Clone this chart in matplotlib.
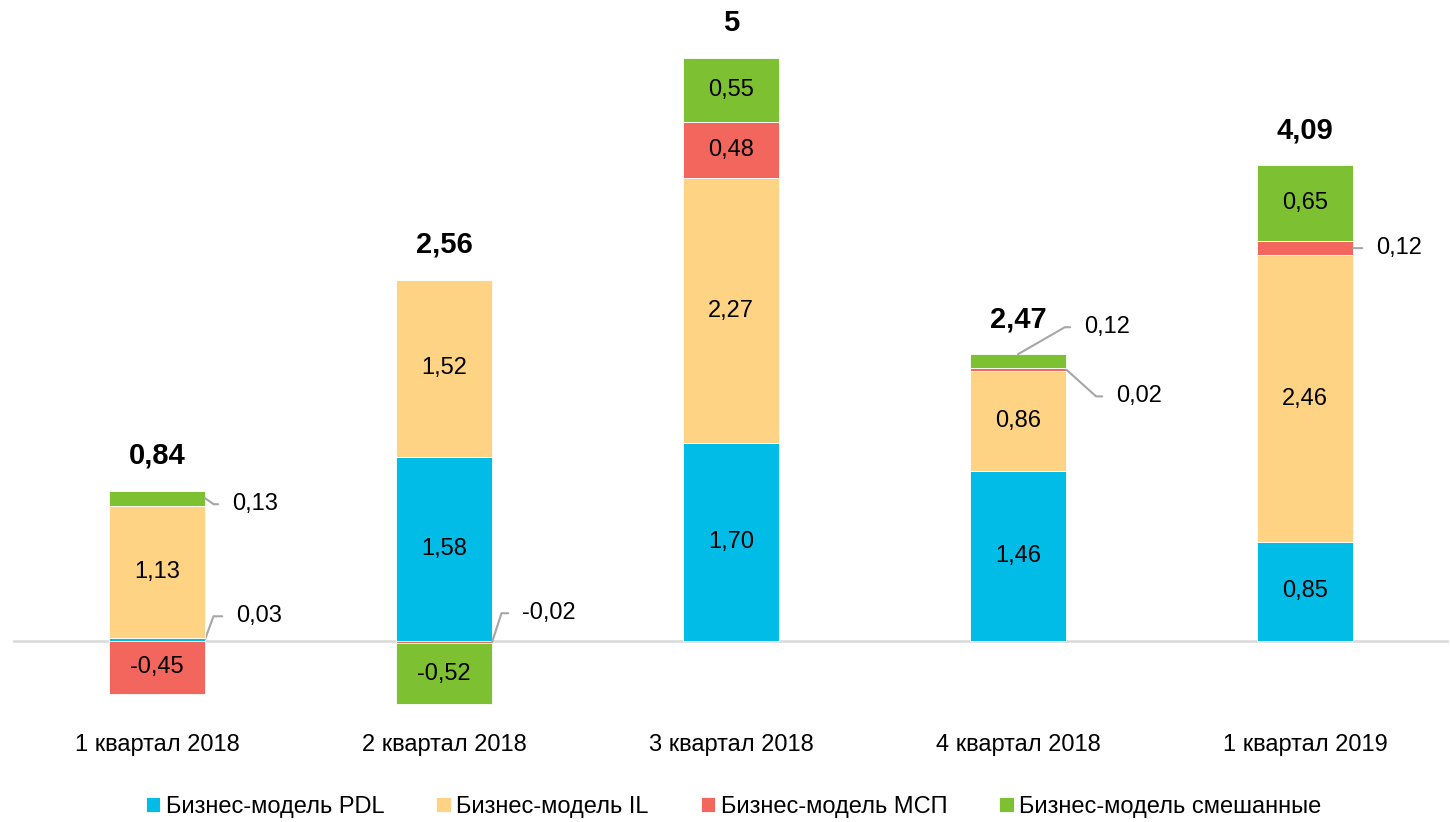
import numpy as np
import matplotlib
matplotlib.use('Agg')
import matplotlib.pyplot as plt

plt.rcParams['font.family'] = ['Liberation Sans', 'DejaVu Sans']

# data
quarters = ['1 квартал 2018', '2 квартал 2018', '3 квартал 2018', '4 квартал 2018', '1 квартал 2019']
series_names = ['Бизнес-модель PDL', 'Бизнес-модель IL', 'Бизнес-модель МСП', 'Бизнес-модель смешанные']
pdl = [0.03, 1.58, 1.70, 1.46, 0.85]
il = [1.13, 1.52, 2.27, 0.86, 2.46]
msp = [-0.45, -0.02, 0.48, 0.02, 0.12]
mixed = [0.13, -0.52, 0.55, 0.12, 0.65]
totals = [0.84, 2.56, 5, 2.47, 4.09]

colors = ['#00BCE6', '#FED384', '#F2665E', '#7DC133']

# small segments labelled with a leader line: (series, bar) -> (dx, dy px, anchor, angleB)
callouts = {
    (3, 0): (27, -6, 'right', -35),
    (0, 0): (31, 23, 'right', 70),
    (2, 1): (30, 29, 'right', 72),
    (3, 3): (66, 27, 'top', 30),
    (2, 3): (50, -27, 'right', -42),
    (2, 4): (23, 0, 'right', None),
}

def fmt(v):
    return ('%.2f' % v).replace('.', ',')

fig = plt.figure(figsize=(14.5, 8.22), dpi=100)
ax = fig.add_axes([13.5 / 1450, 0.1322, 1435 / 1450, 0.8255])

x = np.arange(len(quarters))
width = 0.335
data = [pdl, il, msp, mixed]

pos_base = np.zeros(len(quarters))
neg_base = np.zeros(len(quarters))
for s, vals in enumerate(data):
    vals = np.array(vals)
    bottoms = np.where(vals >= 0, pos_base, neg_base)
    ax.bar(x, vals, width, bottom=bottoms, color=colors[s], edgecolor='white',
           linewidth=0.6, label=series_names[s], zorder=3)
    for i, v in enumerate(vals):
        mid = bottoms[i] + v / 2
        if (s, i) in callouts:
            dx, dy, anchor, angB = callouts[(s, i)]
            if anchor == 'top':
                xy = (x[i], bottoms[i] + v)
            else:
                xy = (x[i] + width / 2, mid)
            if angB is None:
                cs = 'arc3'
            else:
                cs = 'angle,angleA=0,angleB=%d,rad=0' % angB
            ax.annotate(fmt(v), xy=xy, xytext=(dx, dy), textcoords='offset pixels',
                        ha='left', va='center', fontsize=17, color='black',
                        arrowprops=dict(arrowstyle='-', color='#A6A6A6', lw=1.5,
                                        connectionstyle=cs, shrinkA=8, shrinkB=0,
                                        relpos=(0, 0.5)))
        else:
            ax.text(x[i], mid, fmt(v), ha='center', va='center', fontsize=17, color='black', zorder=4)
    pos_base = pos_base + np.where(vals >= 0, vals, 0)
    neg_base = neg_base + np.where(vals < 0, vals, 0)

for i, t in enumerate(totals):
    ax.annotate(('%g' % t).replace('.', ','), xy=(x[i], pos_base[i]), xytext=(0, 35),
                textcoords='offset pixels', ha='center', va='center',
                fontsize=21, fontweight='bold')

ax.axhline(0, color='#D9D9D9', lw=1.8, zorder=2)
ax.set_xlim(-0.5, 4.5)
ax.set_ylim(-0.62, 5.2)
ax.set_xticks(x)
ax.set_xticklabels(quarters, fontsize=17)
ax.tick_params(axis='x', length=0, pad=15)
ax.set_yticks([])
for sp in ax.spines.values():
    sp.set_visible(False)

fig.legend(loc='center', bbox_to_anchor=(0.506, 0.018), ncol=4, frameon=False,
           fontsize=17, handlelength=0.6, handleheight=0.6, handletextpad=0.25,
           columnspacing=2.2, borderaxespad=0, borderpad=0)

fig.savefig('out.png', dpi=100)
